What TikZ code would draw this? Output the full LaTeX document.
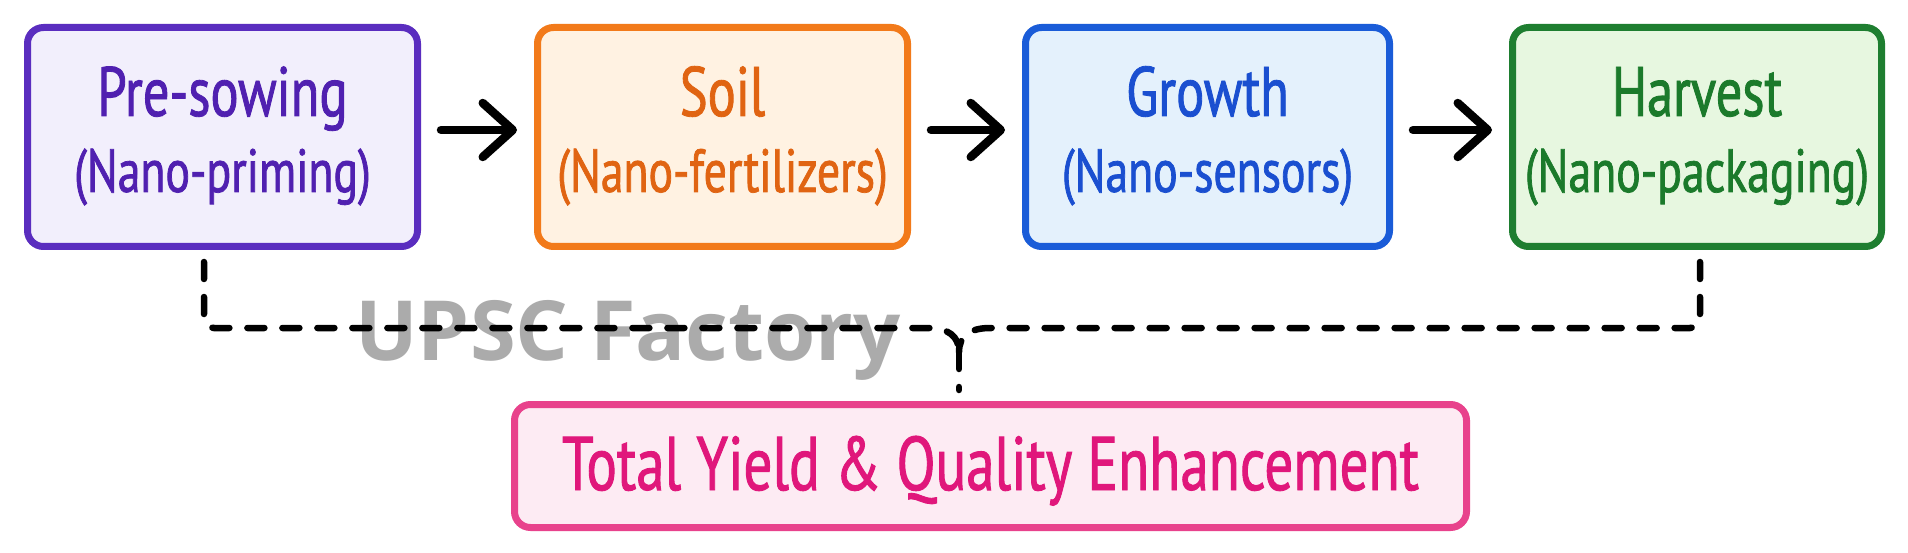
\documentclass[tikz,border=0pt]{standalone}
\usepackage{fontspec}
\usetikzlibrary{arrows.meta}
\newfontfamily\handf{PT Sans}[FakeStretch=0.75,FakeBold=1.2]
\newfontfamily\wmf{Open Sans}
\definecolor{purpB}{HTML}{5A2DBF}
\definecolor{purpF}{HTML}{F2EFFC}
\definecolor{purpT}{HTML}{5020B0}
\definecolor{oranB}{HTML}{F27A1A}
\definecolor{oranF}{HTML}{FFF2E2}
\definecolor{oranT}{HTML}{E06412}
\definecolor{blueB}{HTML}{1A5CD8}
\definecolor{blueF}{HTML}{E4F1FC}
\definecolor{blueT}{HTML}{1A4FD0}
\definecolor{grenB}{HTML}{1E7E30}
\definecolor{grenF}{HTML}{E7F7E0}
\definecolor{grenT}{HTML}{1B7A2B}
\definecolor{pinkB}{HTML}{E8428C}
\definecolor{pinkF}{HTML}{FDEBF3}
\definecolor{pinkT}{HTML}{E0177B}
\definecolor{wmgray}{HTML}{ABABAB}
\tikzset{
  boxst/.style={draw, line width=7pt, rounded corners=16pt, inner sep=0pt,
    minimum height=219pt},
  lineone/.style={anchor=base, inner sep=0pt, font=\handf\fontsize{70}{72}\selectfont},
  linetwo/.style={anchor=base, inner sep=0pt, font=\handf\fontsize{61}{63}\selectfont},
  arr/.style={line width=8.5pt, line cap=round, -{Straight Barb[length=30pt,width=54pt,round]}},
  dsh/.style={line width=6.5pt, line cap=round, dash pattern=on 17pt off 18pt}
}
\begin{document}
\begin{tikzpicture}[x=1pt,y=-1pt]
\useasboundingbox[fill=white] (0,0) rectangle (1908,553);
% boxes
\node[boxst, fill=purpF, draw=purpB, minimum width=390pt] (b1) at (222.5,137) {};
\node[boxst, fill=oranF, draw=oranB, minimum width=370pt] (b2) at (722.5,137) {};
\node[boxst, fill=blueF, draw=blueB, minimum width=364pt] (b3) at (1207.5,137) {};
\node[boxst, fill=grenF, draw=grenB, minimum width=369pt] (b4) at (1697,137) {};
\node[boxst, fill=pinkF, draw=pinkB, minimum width=952pt, minimum height=123pt] (tot) at (990.5,466) {};
% texts
\node[lineone, text=purpT] (t1a) at (222.5,116) {Pre-sowing};
\node[linetwo, text=purpT] (t1b) at (222.5,192) {(Nano-priming)};
\node[lineone, text=oranT] (t2a) at (722.5,116) {Soil};
\node[linetwo, text=oranT] (t2b) at (722.5,192) {(Nano-fertilizers)};
\node[lineone, text=blueT] (t3a) at (1207.5,116) {Growth};
\node[linetwo, text=blueT] (t3b) at (1207.5,192) {(Nano-sensors)};
\node[lineone, text=grenT] (t4a) at (1697,116) {Harvest};
\node[linetwo, text=grenT] (t4b) at (1697,192) {(Nano-packaging)};
\node[anchor=base, inner sep=0pt, text=pinkT, font=\handf\fontsize{76}{78}\selectfont] (tott) at (990.5,490) {Total Yield \& Quality Enhancement};
% arrows
\draw[arr] ([xshift=20pt,yshift=7pt]b1.east) -- ([xshift=-17pt,yshift=7pt]b2.west);
\draw[arr] ([xshift=20pt,yshift=7pt]b2.east) -- ([xshift=-17pt,yshift=7pt]b3.west);
\draw[arr] ([xshift=20pt,yshift=7pt]b3.east) -- ([xshift=-17pt,yshift=7pt]b4.west);
% watermark
\node[anchor=base, inner sep=0pt, text=wmgray, font=\wmf\bfseries\fontsize{83}{85}\selectfont] (wm) at (628,360) {UPSC Factory};
% dashed connectors
\coordinate (d1) at (204,262);
\coordinate (d4) at (1700,262);
\coordinate (jn) at (959,352);
\coordinate (m) at (959,390);
\draw[dsh, rounded corners=10pt] (d1) -- (204,328) -- (918,328) .. controls (948,328) and (959,336) .. (jn);
\draw[dsh, rounded corners=10pt] (d4) -- (1700,328) -- (1000,328) .. controls (970,328) and (959,336) .. (jn);
\draw[dsh] (jn) -- (m);
\end{tikzpicture}
\end{document}
